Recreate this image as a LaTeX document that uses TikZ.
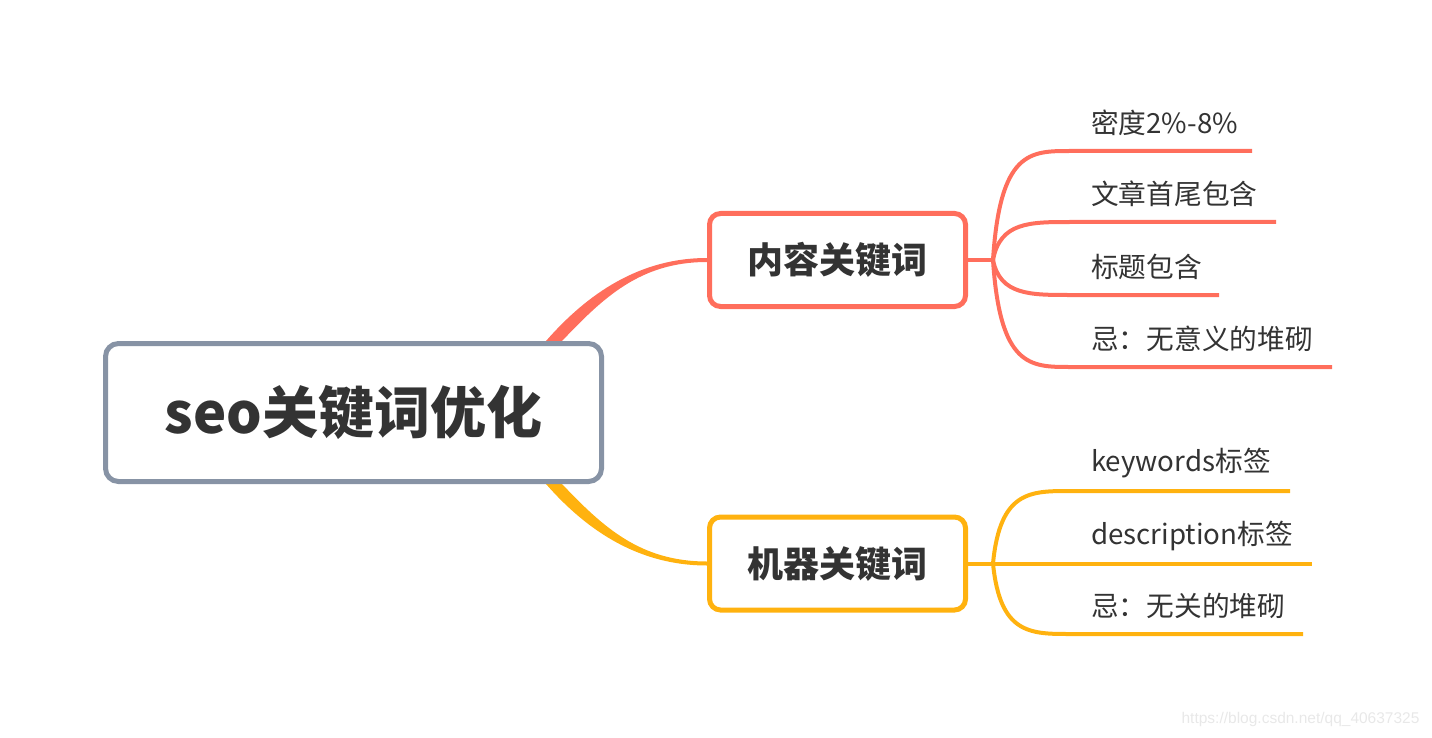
\documentclass[tikz,border=0pt]{standalone}
\usepackage{fontspec}
\setmainfont{Noto Sans CJK SC}
\newfontfamily\marksans{Liberation Sans}
\usetikzlibrary{positioning,backgrounds}
\definecolor{rootgray}{HTML}{8793A5}
\definecolor{topicred}{HTML}{FF6E5C}
\definecolor{topicyel}{HTML}{FFB20F}
\definecolor{inkgray}{HTML}{333333}
\tikzset{
  rootbox/.style={draw=rootgray,line width=5pt,rounded corners=13pt,fill=white,
    minimum width=496pt,minimum height=138pt,text=inkgray,
    font=\fontsize{56}{62}\selectfont\bfseries},
  topicbox/.style={draw=#1,line width=5pt,rounded corners=11pt,fill=white,
    minimum width=256pt,minimum height=93pt,text=inkgray,
    font=\fontsize{36}{40}\selectfont\bfseries},
  leaf/.style={anchor=west,inner sep=0pt,text=inkgray,font=\fontsize{27.7}{32}\selectfont},
  twig/.style={draw=#1,line width=4pt},
}
\begin{document}
\begin{tikzpicture}[x=1pt,y=-1pt]
	\useasboundingbox (0,0) rectangle (1432,738);
	\node[rootbox] (root) at (353.5,412.5) {seo关键词优化};
	\node[topicbox=topicred] (content) at (837.5,260) {内容关键词};
	\node[topicbox=topicyel] (machine) at (837.5,563.5) {机器关键词};
	\coordinate (cfork) at (993,260);
	\coordinate (mfork) at (993,563.5);
	\begin{pgfonlayer}{background}
		% tapered main branches
		\fill[topicred] ([xshift=-58pt]root.north east) .. controls (588,293) and (640,258) .. ([yshift=2pt]content.west)
			-- ([yshift=-2pt]content.west) .. controls (640,262) and (603,298) .. ([xshift=-42pt]root.north east) -- cycle;
		\fill[topicyel] ([xshift=-58pt]root.south east) .. controls (588,532) and (640,565.5) .. ([yshift=-2pt]machine.west)
			-- ([yshift=2pt]machine.west) .. controls (640,561.5) and (603,527) .. ([xshift=-42pt]root.south east) -- cycle;
		\draw[twig=topicred] (content.east) -- (cfork);
		\draw[twig=topicyel] (machine.east) -- (mfork);
	\end{pgfonlayer}
	\foreach \n/\y/\xend/\txt in {%
		1/151/1252/密度2\%-8\%,%
		2/222/1276/文章首尾包含,%
		3/295/1219/标题包含,%
		4/367/1332/忌：无意义的堆砌}{
		\node[leaf] (c\n) at (1091,\y-28) {\txt};
		\coordinate (c\n end) at (\xend,\y);
		\draw[twig=topicred] (cfork) .. controls (1000,\y) and (1030,\y) .. (1070,\y) -- (c\n end);
	}
	\foreach \n/\y/\xend/\txt in {%
		1/491/1290/keywords标签,%
		2/563.5/1312/description标签,%
		3/634/1303/忌：无关的堆砌}{
		\node[leaf] (m\n) at (1091,\y-28) {\txt};
		\coordinate (m\n end) at (\xend,\y);
		\draw[twig=topicyel] (mfork) .. controls (1000,\y) and (1030,\y) .. (1070,\y) -- (m\n end);
	}
	\node[anchor=east,text=black!9,font=\marksans\fontsize{15.5}{18}\selectfont] (mark) at (1423,719) {https://blog.csdn.net/qq\_40637325};
\end{tikzpicture}
\end{document}
